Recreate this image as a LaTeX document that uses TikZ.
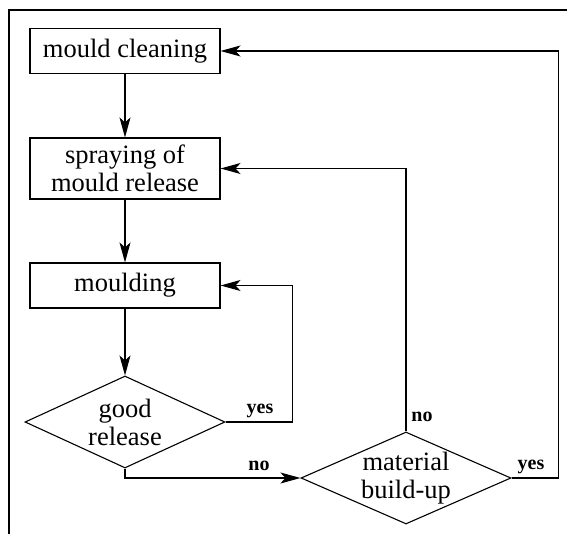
\documentclass[tikz,border=0pt]{standalone}
\usepackage{fontspec}
\setmainfont{Liberation Serif}
\usepackage{tikz}
\usetikzlibrary{arrows.meta,shapes.geometric,positioning}
\tikzstyle{process} = [draw, line width=1.1pt, minimum width=190pt, minimum height=45pt, align=center, font=\fontsize{26.5}{28}\selectfont]
\tikzstyle{decision} = [draw, line width=1.1pt, diamond, aspect=2.2, inner sep=-5pt, align=center, font=\fontsize{26.5}{28}\selectfont]
\tikzstyle{arrow} = [line width=1.1pt,->,>={Stealth[length=20pt,width=11pt,inset=5pt]}]
\tikzstyle{answer} = [font=\fontsize{20}{21}\selectfont\bfseries]

\begin{document}
\begin{tikzpicture}[x=1pt, y=-1pt]
\useasboundingbox (0,0) rectangle (567,534);
% frame
\draw[line width=2pt] (9,534) -- (9,10) -- (567,10);

% process steps
\node[process] (clean) at (125,51) {mould cleaning};
\node[process, minimum height=61pt] (spray) at (125,168.5) {spraying of\\mould release};
\node[process] (mould) at (125,285.5) {moulding};

% decisions
\node[decision, minimum width=200pt, minimum height=92pt] (good) at (125,422) {good\\release};
\node[decision, minimum width=210pt, minimum height=92pt] (build) at (406,478) {material\\build-up};

% flow
\draw[arrow] (clean) -- (spray);
\draw[arrow] (spray) -- (mould);
\draw[arrow] (mould) -- (good);
\draw[arrow] (good.east) -- ++(67,0) |- (mould.east);
\draw[arrow] (good.south) |- (build.west);
\draw[arrow] (build.north) |- (spray.east);
\draw[arrow] (build.east) -- ++(47,0) |- (clean.east);

% answers
\node[answer] (goodyes) at (260,411) {yes};
\node[answer] (goodno) at (259,466) {no};
\node[answer] (buildno) at (422,417) {no};
\node[answer] (buildyes) at (531,467) {yes};
\end{tikzpicture}
\end{document}
